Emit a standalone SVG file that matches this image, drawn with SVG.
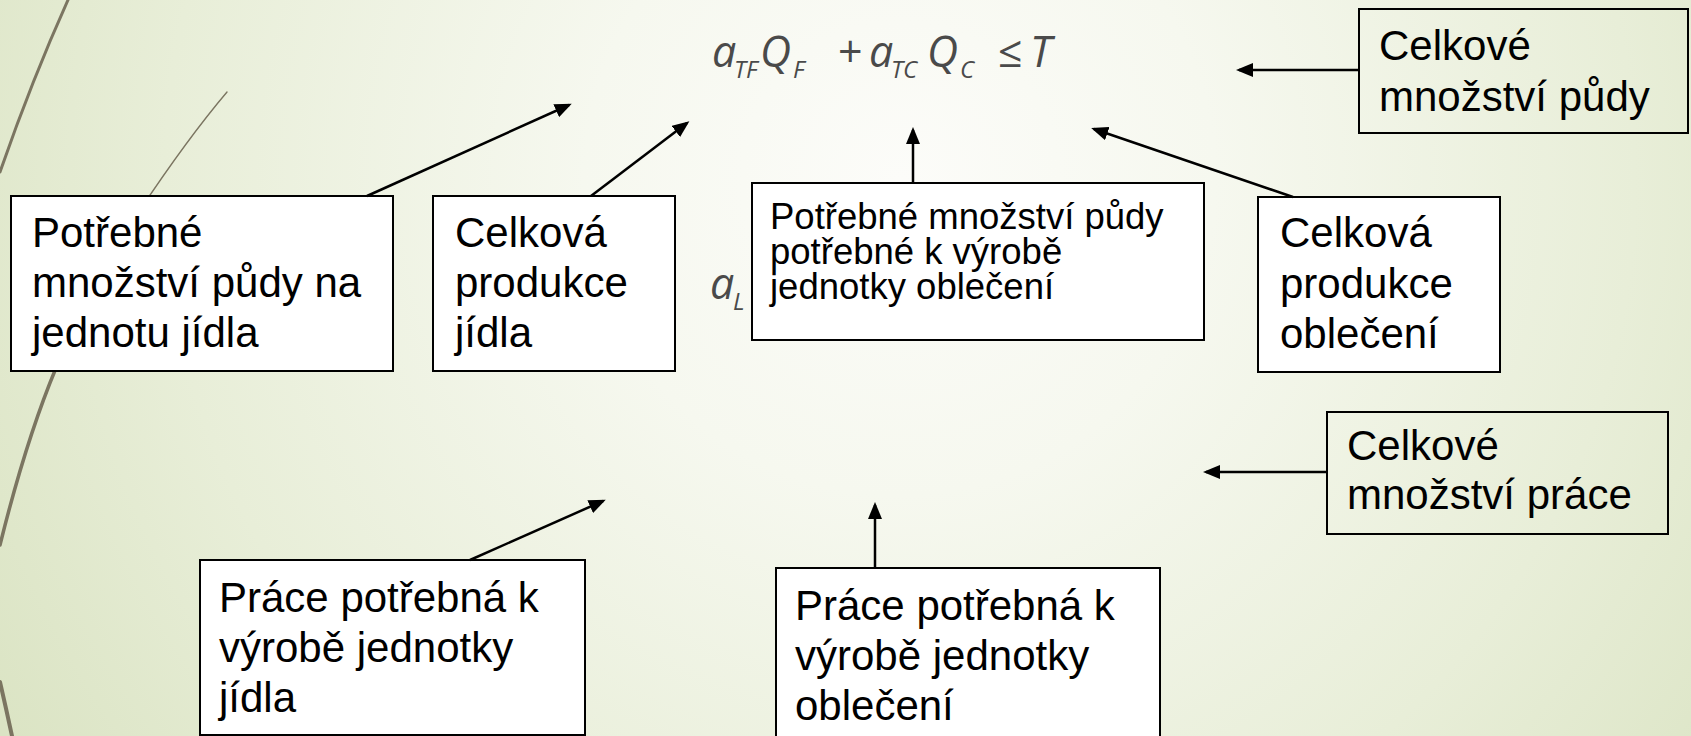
<svg xmlns="http://www.w3.org/2000/svg" width="1691" height="736" viewBox="0 0 1691 736">
  <defs>
    <radialGradient id="bg" gradientUnits="userSpaceOnUse" cx="900" cy="180" r="1050">
      <stop offset="0" stop-color="#fcfcf9"/>
      <stop offset="0.3" stop-color="#f6f8ef"/>
      <stop offset="0.7" stop-color="#e8eed8"/>
      <stop offset="1" stop-color="#dbe4c4"/>
    </radialGradient>
    <marker id="arr" markerUnits="userSpaceOnUse" viewBox="0 0 17 14" markerWidth="17" markerHeight="14" refX="14" refY="7" orient="auto">
      <path d="M0,0 L17,7 L0,14 z" fill="#000"/>
    </marker>
  </defs>
  <style>
    .box { fill: #ffffff; stroke: #000; stroke-width: 2; }
    .boxT { fill: none; stroke: #000; stroke-width: 2; }
    .lbl { font-family: "Liberation Sans", Arial, sans-serif; font-size: 42px; fill: #000; }
    .lblS { font-family: "Liberation Sans", Arial, sans-serif; font-size: 36.5px; fill: #000; }
    .conn { stroke: #000; stroke-width: 2.5; fill: none; marker-end: url(#arr); }
    .deco { fill: none; stroke: #7b7561; stroke-linecap: round; }
    .eq { font-family: "Open Sans", "Noto Sans", sans-serif; font-style: italic; font-weight: 400; fill: #4a4a4a; }
  </style>

  <rect x="0" y="0" width="1691" height="736" fill="url(#bg)"/>

  <!-- decorative curves -->
  <g id="decor">
    <path class="deco" d="M68,0 Q32,80 0,172" stroke-width="3"/>
    <path class="deco" d="M227,92 Q188,138 140,210" stroke-width="1.4"/>
    <path class="deco" d="M56,368 Q26,440 0,545" stroke-width="3.5"/>
    <path class="deco" d="M0,682 Q6,708 12,736" stroke-width="4"/>
  </g>

  <!-- formulas -->
  <g id="formula1">
    <text class="eq" font-size="43"><tspan x="712" y="67">a</tspan><tspan x="734" y="78" font-size="24">TF</tspan><tspan x="760" y="67">Q</tspan><tspan x="793" y="78" font-size="24">F</tspan><tspan x="838" y="67" font-style="normal">+</tspan><tspan x="869" y="67">a</tspan><tspan x="891" y="78" font-size="24">TC</tspan><tspan x="927" y="67">Q</tspan><tspan x="960" y="78" font-size="24">C</tspan><tspan x="998" y="67" font-style="normal">≤</tspan><tspan x="1030" y="67">T</tspan></text>
  </g>
  <g id="formula2">
    <text class="eq" font-size="43"><tspan x="710" y="299">a</tspan><tspan x="733" y="310" font-size="24">L</tspan></text>
  </g>

  <!-- nodes -->
  <g id="nodeA">
    <rect class="box" x="11" y="196" width="382" height="175"/>
    <text class="lbl"><tspan x="32" y="247">Potřebné</tspan><tspan x="32" y="297">množství půdy na</tspan><tspan x="32" y="347">jednotu jídla</tspan></text>
  </g>
  <g id="nodeB">
    <rect class="box" x="433" y="196" width="242" height="175"/>
    <text class="lbl"><tspan x="455" y="247">Celková</tspan><tspan x="455" y="297">produkce</tspan><tspan x="455" y="347">jídla</tspan></text>
  </g>
  <g id="nodeC">
    <rect class="box" x="752" y="183" width="452" height="157"/>
    <text class="lblS"><tspan x="770" y="229">Potřebné množství půdy</tspan><tspan x="770" y="264">potřebné k výrobě</tspan><tspan x="770" y="299">jednotky oblečení</tspan></text>
  </g>
  <g id="nodeD">
    <rect class="box" x="1258" y="197" width="242" height="175"/>
    <text class="lbl"><tspan x="1280" y="247">Celková</tspan><tspan x="1280" y="298">produkce</tspan><tspan x="1280" y="348">oblečení</tspan></text>
  </g>
  <g id="nodeE">
    <rect class="boxT" x="1359" y="9" width="329" height="124"/>
    <text class="lbl"><tspan x="1379" y="60">Celkové</tspan><tspan x="1379" y="111">množství půdy</tspan></text>
  </g>
  <g id="nodeF">
    <rect class="boxT" x="1327" y="412" width="341" height="122"/>
    <text class="lbl"><tspan x="1347" y="460">Celkové</tspan><tspan x="1347" y="509">množství práce</tspan></text>
  </g>
  <g id="nodeG">
    <rect class="box" x="200" y="560" width="385" height="175"/>
    <text class="lbl"><tspan x="219" y="612">Práce potřebná k</tspan><tspan x="219" y="662">výrobě jednotky</tspan><tspan x="219" y="712">jídla</tspan></text>
  </g>
  <g id="nodeH">
    <rect class="box" x="776" y="568" width="384" height="180"/>
    <text class="lbl"><tspan x="795" y="620">Práce potřebná k</tspan><tspan x="795" y="670">výrobě jednotky</tspan><tspan x="795" y="720">oblečení</tspan></text>
  </g>

  <!-- connectors -->
  <g id="connectors">
    <line class="conn" x1="367" y1="196" x2="569" y2="105"/>
    <line class="conn" x1="591" y1="196" x2="687" y2="123"/>
    <line class="conn" x1="913" y1="183" x2="913" y2="130"/>
    <line class="conn" x1="1293" y1="197" x2="1094" y2="129"/>
    <line class="conn" x1="1359" y1="70" x2="1239" y2="70"/>
    <line class="conn" x1="1327" y1="472" x2="1206" y2="472"/>
    <line class="conn" x1="470" y1="560" x2="603" y2="501"/>
    <line class="conn" x1="875" y1="568" x2="875" y2="505"/>
  </g>
</svg>
